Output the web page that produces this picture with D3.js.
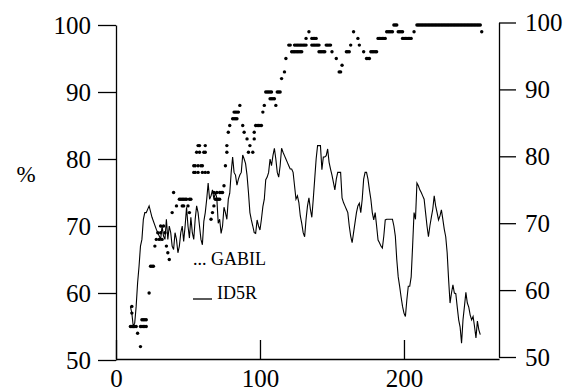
<!DOCTYPE html>
<html>
<head>
<meta charset="utf-8">
<script src="https://cdn.jsdelivr.net/npm/d3@7"></script>
<style>
  body { margin: 0; background: #fff; }
  svg { display: block; }
</style>
</head>
<body>
<div id="chart"></div>
<script>
const xTicks = [0, 100, 200];
const yTicks = [50, 60, 70, 80, 90, 100];

// GABIL: [training instances, % correct]
const gabil = [
  [10,55],[11,55],[11,57],[11,58],[12,55],[13,55],[14,55],[15,54],[17,52],[17,55],
  [18,55],[18,56],[19,55],[19,56],[20,55],[20,56],[21,55],[21,56],[23,60],[24,64],
  [25,64],[26,64],[27,67],[28,68],[29,69],[30,68],[31,69],[31,70],[32,68],[33,70],
  [34,69],[35,67],[36,66],[37,65],[39,72],[40,75],[42,73],[44,74],[45,74],[46,74],
  [46,73],[47,74],[47,73],[48,74],[49,74],[50,73],[51,72],[51,74],[52,74],
  [54,79],[54,78],[55,79],[55,78],[56,81],[57,82],[57,79],[57,78],[58,82],[58,81],
  [59,79],[60,79],[60,78],[61,81],[62,82],[62,81],[62,78],[64,78],
  [66,71],[67,72],[68,73],[68,75],[69,74],[70,75],[70,74],[71,74],[72,75],[72,74],
  [73,75],[74,75],[75,76],[76,79],[77,81],[77,82],[78,84],[79,85],[81,86],[82,86],
  [82,87],[83,86],[83,87],[84,86],[84,87],[85,87],[86,88],[88,85],[89,84],[91,83],
  [92,81],[93,82],[95,81],[96,83],[96,84],[97,85],[98,85],[99,85],[100,85],[101,85],
  [102,87],[103,88],[104,90],[105,90],[106,90],[107,89],[107,90],[108,89],[108,90],[109,89],
  [110,89],[111,88],[112,90],[113,90],[114,90],[115,92],[117,93],[118,95],[120,97],
  [121,97],[122,96],[123,96],[124,96],[124,97],[125,96],[125,97],[126,96],[126,97],[127,96],
  [127,97],[128,96],[128,97],[129,96],[129,97],[130,97],[131,97],[132,97],[132,98],[134,99],
  [136,98],[136,97],[137,98],[137,97],[138,98],[138,97],[139,98],[139,97],[140,97],[141,97],
  [141,96],[142,96],[143,96],[144,96],[145,96],[146,97],[147,97],[148,97],[149,97],[150,96],
  [153,95],[155,93],[156,93],[157,94],[160,96],[161,96],[162,96],[163,97],[165,99],[168,98],
  [169,97],[172,96],[174,95],[175,95],[176,95],[177,96],[178,96],[179,96],[180,96],[181,96],
  [182,98],[183,98],[184,98],[185,98],[186,98],[187,98],[188,99],[189,99],[190,99],[191,99],
  [192,99],[193,100],[194,100],[195,100],[196,99],[197,99],[198,99],[199,99],[199,98],[200,98],
  [201,98],[202,98],[203,98],[204,98],[205,98],[207,99],[209,100],[210,100],[211,100],[212,100],
  [213,100],[214,100],[215,100],[216,100],[217,100],[218,100],[219,100],[220,100],[221,100],[222,100],
  [223,100],[224,100],[225,100],[226,100],[227,100],[228,100],[229,100],[230,100],[231,100],[232,100],
  [233,100],[234,100],[235,100],[236,100],[237,100],[238,100],[239,100],[240,100],[241,100],[242,100],
  [243,100],[244,100],[245,100],[246,100],[247,100],[248,100],[249,100],[250,100],[251,100],[252,100],
  [253,100],[254,99]
];

// ID5R: [training instances, % correct]
const id5r = [
  [10,58],[11,57],[12,55],[13,55.5],[14,58],[15,61.5],[16,64],[17,67],[18,68],[19,71],
  [20,72],[21,72],[23,73],[25,71.3],[28,69.5],[30,68.5],[31,68],[32,70],[33,68.5],[34,68],
  [35,71],[36,68],[37,70],[38,69],[39,67],[40,66.5],[41,69],[42,68],[43,66],[44,67],
  [45,69],[46,70],[47,67.7],[48,70],[49,72.8],[50,70],[51,68.2],[52,71.3],[53,69],[54,68],
  [55,71],[56,73],[57,72],[58,70],[59,68],[60,67.2],[61,70.7],[62,72],[63,74],[64,76.4],
  [65,74],[66,74.5],[67,75.4],[68,74],[69,75],[70,74.2],[71,70.4],[72,71],[73,68.9],[74,70],
  [75,72.8],[76,72],[77,71],[78,74],[79,74.9],[80,78],[81,80.3],[82,78],[83,77.6],[84,76.1],
  [85,77],[86,77.6],[87,78],[88,80.6],[89,80],[90,79.3],[91,77.6],[92,75],[93,72],[94,70.9],
  [95,70],[96,69],[97,68.9],[98,70.9],[99,70],[100,69.4],[101,71],[102,72.9],[103,74],[104,76.9],
  [105,77.3],[106,78],[107,80],[108,79],[109,80.5],[110,81.6],[111,80],[112,78],[113,77.3],[114,79],
  [115,81.6],[116,81],[117,80.5],[118,80],[119,79.5],[120,79],[121,78.5],[122,78.5],[123,78],[124,76],
  [125,74],[126,74.5],[127,73.5],[128,71.5],[129,70.4],[130,69],[131,68.4],[132,71],[133,73],[134,74.2],
  [135,72.5],[136,71.3],[137,74],[138,77],[139,80],[140,82],[141,82],[142,82],[143,78.4],[144,80.3],
  [145,80.3],[146,80.5],[147,81.5],[148,79.5],[149,78.5],[150,77.6],[151,76.5],[152,75.4],[153,77],[154,78],
  [155,78],[156,78],[157,74.2],[158,73.5],[159,73],[160,72.5],[161,72],[162,70],[163,68.5],[164,67.5],
  [165,69],[166,70.5],[167,72],[168,73],[169,73.4],[170,72],[171,74],[172,77],[173,78],[174,78],
  [175,77],[176,75.4],[177,74],[178,72],[179,70.9],[180,72],[181,70],[182,67.9],[183,67.5],[184,67],
  [185,66.7],[186,68.5],[187,70.9],[188,71],[189,71],[190,71],[191,71],[192,71],[193,70],[194,68.5],
  [195,65],[196,62.4],[197,61],[198,59.4],[199,58],[200,57],[201,56.5],[202,59],[203,61],[204,61],
  [205,62.4],[206,67],[207,72],[208,71],[209,76.4],[210,76],[211,75.4],[212,75],[213,74.5],[214,74],
  [215,72],[216,70],[217,68.4],[218,70],[219,71.3],[220,72.5],[221,74.5],[222,73],[223,72],[224,70.9],
  [225,71.5],[226,72.4],[227,71],[228,69.5],[229,68.4],[230,66],[231,62],[232,58.5],[233,60],[234,61.2],
  [235,60],[236,59.9],[237,57.9],[238,56],[239,54.9],[240,52.5],[241,56],[242,58],[243,60.1],[244,58.5],
  [245,57.9],[246,56.7],[247,56],[248,56.5],[249,55],[250,53.3],[251,55.8],[252,54.5],[253,53.8]
];

const width = 569, height = 391;
const font = '"Liberation Serif", "Times New Roman", serif';

const svg = d3.select('#chart')
  .append('svg')
    .attr('width', width)
    .attr('height', height);

const x = d3.scaleLinear().domain([0, 266]).range([116, 499]);
const y = d3.scaleLinear().domain([50, 100]).range([360, 25]);
// the scan is slightly tilted, right axis sits a few px higher
const yRight = d3.scaleLinear().domain([50, 100]).range([357, 22.5]);

function styleAxis(g, size) {
  g.attr('font-family', font).attr('font-size', size);
  g.selectAll('path, line').attr('stroke', '#000').attr('stroke-width', 1.3);
  g.selectAll('text').attr('fill', '#000');
}

svg.append('g')
   .attr('transform', 'translate(116,0)')
   .call(d3.axisLeft(y).tickValues(yTicks).tickSize(18).tickPadding(7).tickSizeOuter(0))
   .call(g => styleAxis(g, 25));

svg.append('g')
   .attr('transform', 'translate(499,0)')
   .call(d3.axisRight(yRight).tickValues(yTicks).tickSize(17).tickPadding(9).tickSizeOuter(0))
   .call(g => styleAxis(g, 25));

svg.append('g')
   .attr('transform', 'translate(0,359)')
   .call(d3.axisBottom(x).tickValues(xTicks).tickSize(-19).tickPadding(10).tickSizeOuter(0))
   .call(g => styleAxis(g, 25));

// ID5R line
const line = d3.line()
  .x(d => x(d[0]))
  .y(d => y(d[1]));

svg.append('path')
   .datum(id5r)
   .attr('d', line)
   .attr('fill', 'none')
   .attr('stroke', '#000')
   .attr('stroke-width', 1.1)
   .attr('stroke-linejoin', 'miter');

// GABIL dots
svg.append('g')
   .selectAll('circle')
   .data(gabil)
   .enter()
   .append('circle')
     .attr('cx', d => x(d[0]))
     .attr('cy', d => y(d[1]))
     .attr('r', 1.7)
     .attr('fill', '#000');

svg.append('text')
   .attr('x', 26)
   .attr('y', 182)
   .attr('text-anchor', 'middle')
   .attr('font-family', font)
   .attr('font-size', 23)
   .text('%');

// legend
svg.append('text')
   .attr('x', 193)
   .attr('y', 265)
   .attr('font-family', font)
   .attr('font-size', 18)
   .text('... GABIL');

svg.append('line')
   .attr('x1', 193).attr('x2', 212)
   .attr('y1', 299).attr('y2', 299)
   .attr('stroke', '#000')
   .attr('stroke-width', 1.3);

svg.append('text')
   .attr('x', 217)
   .attr('y', 298.5)
   .attr('font-family', font)
   .attr('font-size', 18)
   .text('ID5R');
</script>
</body>
</html>
